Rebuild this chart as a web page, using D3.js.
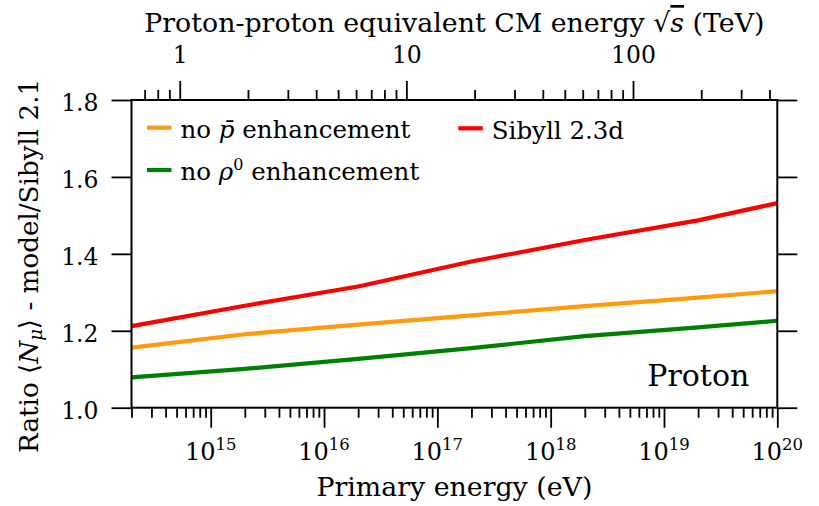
<!DOCTYPE html>
<html>
<head>
<meta charset="utf-8">
<script src="https://cdn.jsdelivr.net/npm/d3@7"></script>
<style>
  html, body { margin: 0; padding: 0; background: #fff; }
  svg { display: block; }
  text { font-family: "DejaVu Serif", serif; fill: #000; }
</style>
</head>
<body>
<svg id="chart" width="819" height="506"></svg>
<script>
// Primary energies (eV) of the simulated showers
const energies = [2e14, 2e15, 2e16, 2e17, 2e18, 2e19, 1e20];
// Ratio <N_mu> relative to Sibyll 2.1
const sibyll23d = [1.212, 1.265, 1.315, 1.380, 1.436, 1.487, 1.532];
const noPbar    = [1.156, 1.191, 1.216, 1.240, 1.264, 1.286, 1.303];
const noRho0    = [1.079, 1.101, 1.127, 1.155, 1.186, 1.209, 1.226];

const yTicks = [1.0, 1.2, 1.4, 1.6, 1.8];
const xMajorExponents = [15, 16, 17, 18, 19, 20];
const topMajorTicks = [1, 10, 100];

const series = [
  { name: "no p̄ enhancement", values: noPbar, color: "#ff9a0a" },
  { name: "Sibyll 2.3d", values: sibyll23d, color: "#ff0000" },
  { name: "no ρ0 enhancement", values: noRho0, color: "#008000" }
];

const W = 819, H = 506;
const margin = { left: 131.5, right: W - 777.3, top: 100, bottom: H - 407.7 };
const iw = W - margin.left - margin.right;
const ih = H - margin.top - margin.bottom;
const titleSize = "26.8px";

const svg = d3.select("#chart");
const g = svg.append("g").attr("transform", `translate(${margin.left},${margin.top})`);

const x = d3.scaleLog().domain([2e14, 1e20]).range([0, iw]);
const y = d3.scaleLinear().domain([1.0, 1.8]).range([ih, 0]);

// proton-proton equivalent centre-of-mass energy in TeV
const mp = 0.938272e9; // eV
const sqrtS = E => Math.sqrt(2 * mp * E) / 1e12;
const xTop = d3.scaleLog().domain([sqrtS(2e14), sqrtS(1e20)]).range([0, iw]);

const tickColor = "#000";
const tickWidth = 1.8;

function styleAxis(sel) {
  sel.select(".domain").remove();
  sel.selectAll(".tick line").attr("stroke", tickColor).attr("stroke-width", tickWidth);
}

// minor ticks for the bottom log axis
const xMinor = [];
for (let e = 14; e < 20; e++) {
  for (let m = 1; m < 10; m++) {
    const v = m * Math.pow(10, e);
    if (m !== 1 && v >= 2e14 && v <= 1e20) xMinor.push(v);
  }
}
// minor ticks for the top log axis
const topMinor = [];
for (let e = -1; e < 3; e++) {
  for (let m = 2; m < 10; m++) {
    const v = m * Math.pow(10, e);
    if (v >= sqrtS(2e14) && v <= sqrtS(1e20)) topMinor.push(v);
  }
}

// clip path for data lines
svg.append("defs").append("clipPath").attr("id", "plotclip")
  .append("rect").attr("x", 0).attr("y", 0).attr("width", iw).attr("height", ih);

// data lines
const line = d3.line()
  .x((d, i) => x(energies[i]))
  .y(d => y(d));

const lines = g.append("g").attr("clip-path", "url(#plotclip)");
[series[0], series[2], series[1]].forEach(s => {
  lines.append("path")
    .datum(s.values)
    .attr("d", line)
    .attr("fill", "none")
    .attr("stroke", s.color)
    .attr("stroke-width", 4.2)
    .attr("stroke-linejoin", "round");
});

// bottom axis
g.append("g").attr("transform", `translate(0,${ih})`)
  .call(d3.axisBottom(x).tickValues(xMinor).tickSize(10).tickFormat(""))
  .call(styleAxis);
g.append("g").attr("transform", `translate(0,${ih})`)
  .call(d3.axisBottom(x).tickValues(xMajorExponents.map(e => Math.pow(10, e))).tickSize(20).tickFormat(""))
  .call(styleAxis);

const xLabels = g.append("g").attr("transform", `translate(0,${ih})`);
xMajorExponents.forEach(e => {
  const t = xLabels.append("text")
    .attr("x", x(Math.pow(10, e)))
    .attr("y", 52.3)
    .attr("text-anchor", "middle")
    .style("font-size", "24px");
  t.append("tspan").text("10");
  t.append("tspan").attr("dy", -9.5).style("font-size", "16.5px").text(e);
});

// top axis (sqrt(s))
g.append("g")
  .call(d3.axisTop(xTop).tickValues(topMinor).tickSize(10).tickFormat(""))
  .call(styleAxis);
g.append("g")
  .call(d3.axisTop(xTop).tickValues(topMajorTicks).tickSize(19).tickPadding(18).tickFormat(d3.format("d")))
  .call(styleAxis)
  .call(a => a.selectAll("text").style("font-size", "23.5px").attr("dy", 0).attr("font-family", null));

// left axis
g.append("g")
  .call(d3.axisLeft(y).tickValues(yTicks).tickSize(20).tickPadding(13).tickFormat(d3.format(".1f")))
  .call(styleAxis)
  .call(a => a.selectAll("text").style("font-size", "23.5px").attr("dy", "0.46em").attr("font-family", null));

// right axis
g.append("g").attr("transform", `translate(${iw},0)`)
  .call(d3.axisRight(y).tickValues(yTicks).tickSize(20).tickFormat(""))
  .call(styleAxis);

// frame
g.append("rect")
  .attr("x", 0).attr("y", 0).attr("width", iw).attr("height", ih)
  .attr("fill", "none").attr("stroke", "#000").attr("stroke-width", 2);

// axis titles
const topTitle = svg.append("text")
  .attr("x", margin.left + iw / 2).attr("y", 32)
  .attr("text-anchor", "middle")
  .style("font-size", titleSize);
topTitle.append("tspan").text("Proton-proton equivalent CM energy ");
topTitle.append("tspan").text("√");
topTitle.append("tspan").style("font-style", "italic").style("text-decoration", "overline").text("s");
topTitle.append("tspan").text(" (TeV)");

svg.append("text")
  .attr("x", margin.left + iw / 2).attr("y", 496)
  .attr("text-anchor", "middle")
  .style("font-size", titleSize)
  .text("Primary energy (eV)");

const yl = svg.append("text")
  .attr("transform", `translate(38,${margin.top + ih / 2 + 12}) rotate(-90)`)
  .attr("text-anchor", "middle")
  .style("font-size", "26.2px");
yl.append("tspan").text("Ratio ⟨");
yl.append("tspan").style("font-style", "italic").text("N");
yl.append("tspan").attr("dy", 4).style("font-style", "italic").style("font-size", "18px").text("μ");
yl.append("tspan").attr("dy", -4).text("⟩ - model/Sibyll 2.1");

// legend
const legendItems = [
  { s: series[0], lx: 15.5, ly: 27.7 },
  { s: series[1], lx: 326.8, ly: 28.3 },
  { s: series[2], lx: 15.5, ly: 70 }
];
legendItems.forEach(({ s, lx, ly }) => {
  g.append("line")
    .attr("x1", lx).attr("x2", lx + 24.5)
    .attr("y1", ly).attr("y2", ly)
    .attr("stroke", s.color).attr("stroke-width", 4.2);
  const t = g.append("text")
    .attr("x", lx + 33.5).attr("y", ly + 10.3)
    .style("font-size", "24.5px");
  if (s === series[0]) {
    t.append("tspan").text("no ");
    t.append("tspan").style("font-style", "italic").text("p̄");
    t.append("tspan").text(" enhancement");
  } else if (s === series[2]) {
    t.append("tspan").text("no ");
    t.append("tspan").style("font-style", "italic").text("ρ");
    t.append("tspan").attr("dy", -10).style("font-size", "16px").text("0");
    t.append("tspan").attr("dy", 10).text(" enhancement");
  } else {
    t.text(s.name);
  }
});

// particle label
g.append("text")
  .attr("x", 749.3 - margin.left).attr("y", 386 - margin.top)
  .attr("text-anchor", "end")
  .style("font-size", "30px")
  .text("Proton");
</script>
</body>
</html>
